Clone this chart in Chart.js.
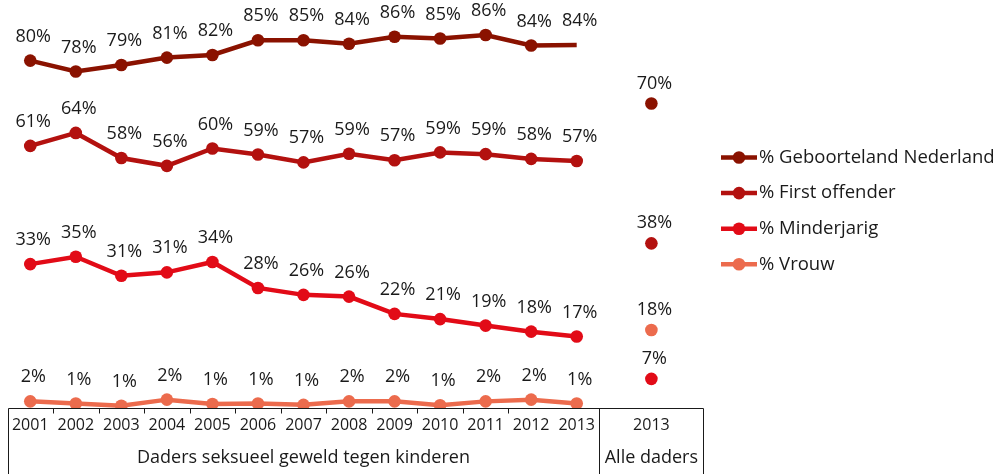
<!DOCTYPE html>
<html lang="nl">
<head>
<meta charset="utf-8">
<title>Daders seksueel geweld tegen kinderen</title>
<script src="https://cdn.jsdelivr.net/npm/chart.js@4.4.1/dist/chart.umd.min.js"></script>
<style>
  html, body { margin: 0; padding: 0; background: #fff; }
  #wrap { position: relative; width: 1005px; height: 474px; }
</style>
</head>
<body>
<div id="wrap"><canvas id="chart"></canvas></div>
<script>
// Categories
const YEARS = ['2001', '2002', '2003', '2004', '2005', '2006', '2007', '2008', '2009', '2010', '2011', '2012', '2013'];
const ALL_YEAR = '2013';
const GROUPS = ['Daders seksueel geweld tegen kinderen', 'Alle daders'];

// Series (percent), one value per year
const GEBOORTELAND = [80.3, 77.8, 79.3, 81.0, 81.6, 85.0, 85.0, 84.2, 85.8, 85.4, 86.2, 83.8, 83.9];
const FIRST_OFFENDER = [60.6, 63.6, 57.8, 56.0, 60.0, 58.6, 56.8, 58.8, 57.3, 59.1, 58.7, 57.6, 57.1];
const MINDERJARIG = [33.3, 35.0, 30.6, 31.4, 33.8, 27.8, 26.2, 25.8, 21.8, 20.6, 19.1, 17.7, 16.6];
const VROUW = [1.6, 1.1, 0.6, 2.0, 1.0, 1.1, 0.8, 1.6, 1.6, 0.7, 1.6, 2.0, 1.1];

// 2013, alle daders (same series order)
const ALLE_DADERS = [70.4, 38.1, 6.8, 18.1];

const SERIES_LABELS = ['% Geboorteland Nederland', '% First offender', '% Minderjarig', '% Vrouw'];
const SERIES_COLORS = ['#8a1200', '#b3110f', '#e20b17', '#ec6b4d'];

const FONT = "'Open Sans', 'Noto Sans', sans-serif";

// x layout: years sit at 1..13, the "alle daders" block spans 13.5..X_MAX
const X_MIN = 0.5;
const X_SPLIT = 13.5;
const X_MAX = 15.78;
const X_ALL = (X_SPLIT + X_MAX) / 2;

function seriesData(values, allValue) {
    const pts = values.map((v, i) => ({ x: i + 1, y: v }));
    pts.push({ x: X_SPLIT, y: null });          // break the line before the separate point
    pts.push({ x: X_ALL, y: allValue });
    return pts;
}

const SERIES = [GEBOORTELAND, FIRST_OFFENDER, MINDERJARIG, VROUW];

const datasets = SERIES.map((values, k) => ({
    label: SERIES_LABELS[k],
    data: seriesData(values, ALLE_DADERS[k]),
    borderColor: SERIES_COLORS[k],
    backgroundColor: SERIES_COLORS[k],
    borderWidth: 4.5,
    pointRadius: ctx => (k === 0 && ctx.dataIndex === YEARS.length - 1) ? 0 : 6.3,
    pointBorderWidth: 0,
    pointHoverRadius: 6.3,
    tension: 0,
    spanGaps: false,
}));

// value labels above each point
const valueLabels = {
    id: 'valueLabels',
    afterDatasetsDraw(chart) {
        const { ctx } = chart;
        ctx.save();
        ctx.font = `18px ${FONT}`;
        ctx.fillStyle = '#1a1a1a';
        ctx.textAlign = 'center';
        ctx.textBaseline = 'middle';
        chart.data.datasets.forEach((ds, di) => {
            const meta = chart.getDatasetMeta(di);
            meta.data.forEach((el, i) => {
                const v = ds.data[i].y;
                if (v === null) return;
                const lift = ds.data[i].x === X_ALL ? 20 : 24;
                ctx.fillText(Math.round(v) + '%', el.x + 3, el.y - lift);
            });
        });
        ctx.restore();
    },
};

// box around the category axis, with group names
const axisFrame = {
    id: 'axisFrame',
    afterDraw(chart) {
        const { ctx, chartArea } = chart;
        const xs = chart.scales.x;
        const bottom = chart.height;
        const y0 = Math.round(chartArea.bottom) + 0.5;
        const px = v => Math.round(xs.getPixelForValue(v)) + 0.5;
        ctx.save();
        ctx.strokeStyle = '#1a1a1a';
        ctx.lineWidth = 1;
        ctx.beginPath();
        ctx.moveTo(px(X_MIN), y0);
        ctx.lineTo(px(X_MAX), y0);
        [X_MIN, X_SPLIT, X_MAX].forEach(v => {
            ctx.moveTo(px(v), y0);
            ctx.lineTo(px(v), bottom);
        });
        for (let i = 1; i < YEARS.length - 1; i++) {
            ctx.moveTo(px(i + 0.5), y0);
            ctx.lineTo(px(i + 0.5), y0 + 5);
        }
        ctx.stroke();

        ctx.font = `18px ${FONT}`;
        ctx.fillStyle = '#1a1a1a';
        ctx.textAlign = 'center';
        ctx.textBaseline = 'middle';
        ctx.fillText(GROUPS[0], xs.getPixelForValue((X_MIN + X_SPLIT) / 2), 458);
        ctx.fillText(GROUPS[1], xs.getPixelForValue(X_ALL), 458);
        ctx.restore();
    },
};

// legend: short line with a dot, then the series name
const lineLegend = {
    id: 'lineLegend',
    afterDraw(chart) {
        const { ctx } = chart;
        const x0 = 721, x1 = 757, tx = 759;
        const top = 157.5, step = 35.6;
        ctx.save();
        ctx.font = `18.5px ${FONT}`;
        ctx.textBaseline = 'middle';
        ctx.textAlign = 'left';
        chart.data.datasets.forEach((ds, i) => {
            const y = top + i * step;
            ctx.strokeStyle = ds.borderColor;
            ctx.lineWidth = 4.5;
            ctx.beginPath();
            ctx.moveTo(x0, y);
            ctx.lineTo(x1, y);
            ctx.stroke();
            ctx.fillStyle = ds.backgroundColor;
            ctx.beginPath();
            ctx.arc((x0 + x1) / 2, y, 6.3, 0, Math.PI * 2);
            ctx.fill();
            ctx.fillStyle = '#1a1a1a';
            ctx.fillText(ds.label, tx, y);
        });
        ctx.restore();
    },
};

new Chart(document.getElementById('chart'), {
    type: 'line',
    data: { datasets },
    options: {
        responsive: true,
        maintainAspectRatio: false,
        animation: false,
        layout: { autoPadding: false, padding: { left: 7.5, right: 301.7, top: 0, bottom: 0 } },
        plugins: {
            legend: { display: false },
            tooltip: { enabled: false },
        },
        scales: {
            x: {
                type: 'linear',
                min: X_MIN,
                max: X_MAX,
                afterBuildTicks: scale => {
                    scale.ticks = YEARS.map((_, i) => ({ value: i + 1 })).concat([{ value: X_ALL }]);
                },
                afterFit: scale => { scale.height = 65.7; },
                ticks: {
                    autoSkip: false,
                    maxRotation: 0,
                    padding: 8,
                    color: '#1a1a1a',
                    font: { family: FONT, size: 16 },
                    callback: (value, index) => index < YEARS.length ? YEARS[index] : ALL_YEAR,
                },
                grid: { display: false, drawTicks: false },
                border: { display: false },
            },
            y: {
                display: false,
                min: 0,
                max: 94.3,
            },
        },
    },
    plugins: [valueLabels, axisFrame, lineLegend],
});
</script>
</body>
</html>
